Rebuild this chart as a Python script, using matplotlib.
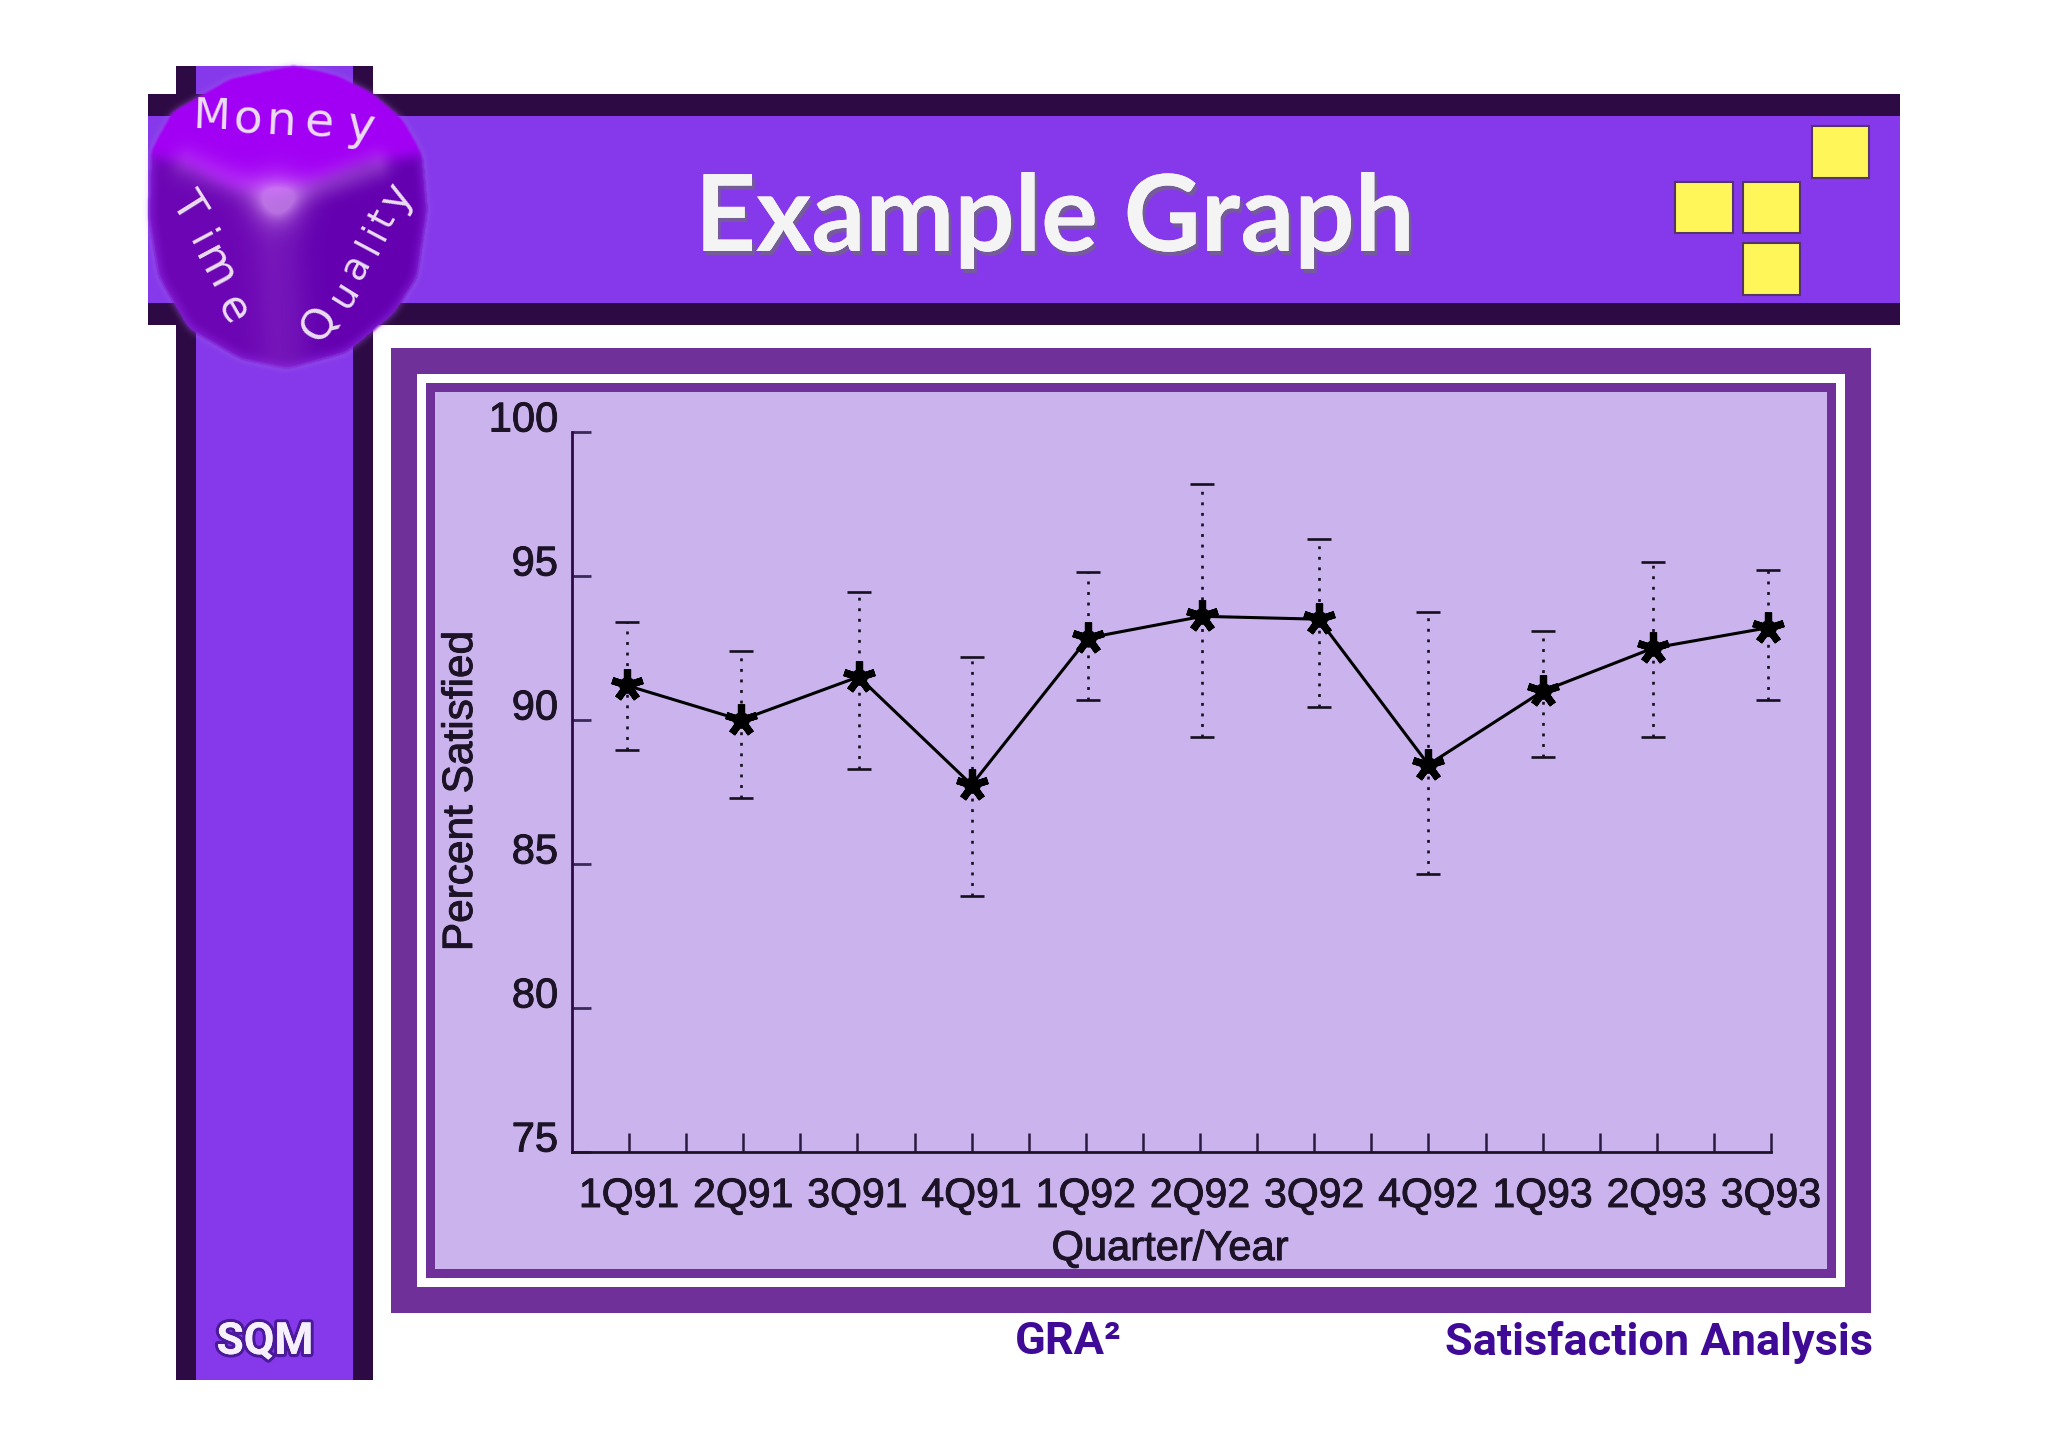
import matplotlib
matplotlib.use("Agg")
import matplotlib.pyplot as plt
import matplotlib.patheffects as pe
import matplotlib.transforms as mtrans
from matplotlib.patches import Rectangle
from matplotlib.path import Path
import numpy as np

W, H = 2048, 1448

quarters = ['1Q91', '2Q91', '3Q91', '4Q91', '1Q92', '2Q92', '3Q92', '4Q92', '1Q93', '2Q93', '3Q93']
quarter_pos = [-0.02, 0.98, 2.01, 3.0, 4.02, 5.02, 6.04, 7.0, 8.0, 8.97, 9.97]
satisfied = [91.2, 90.0, 91.5, 87.75, 92.85, 93.6, 93.5, 88.45, 91.0, 92.5, 93.2]
upper = [93.4, 92.4, 94.45, 92.2, 95.15, 98.2, 96.3, 93.75, 93.1, 95.5, 95.2]
lower = [88.95, 87.3, 88.3, 83.9, 90.7, 89.4, 90.45, 84.65, 88.7, 89.4, 90.7]
y_ticks = [75, 80, 85, 90, 95, 100]

DARK = '#2E0A44'
PURPLE = '#8639EA'
PANEL = '#70309A'
LIGHT = '#CBB4EE'
YELLOW = '#FFF75A'
FOOT = '#3F0A96'
INK = '#1C1426'
CONDENSED = ['Roboto', 'Liberation Sans']

plt.rcParams['font.family'] = ['Liberation Sans', 'DejaVu Sans']

# printed text in the reference is a bit fuzzy and heavy
heavy = [pe.withStroke(linewidth=0.7, foreground=INK)]


def rect(ax, x0, y0, x1, y1, color, **kw):
    ax.add_patch(Rectangle((x0, y0), x1 - x0, y1 - y0, facecolor=color, edgecolor='none', **kw))


def blur(a, n, passes=3):
    kernel = np.ones(n) / n
    for _ in range(passes):
        a = np.apply_along_axis(lambda r: np.convolve(r, kernel, mode='same'), 0, a)
        a = np.apply_along_axis(lambda r: np.convolve(r, kernel, mode='same'), 1, a)
    return a


def zp(pts):
    return [(130 + x / 3, 50 + y / 3) for x, y in pts]


def seg_dist(X, Y, a, b):
    a, b = np.array(a), np.array(b)
    d = b - a
    t = np.clip(((X - a[0]) * d[0] + (Y - a[1]) * d[1]) / (d @ d), 0, 1)
    return np.hypot(X - a[0] - t * d[0], Y - a[1] - t * d[1])


def draw_die(ax):
    x0, y0, x1, y1 = 110, 30, 460, 410
    Y, X = np.mgrid[y0:y1, x0:x1]
    pts = np.column_stack([X.ravel(), Y.ravel()])

    def mask(poly):
        return Path(poly + [poly[0]]).contains_points(pts).reshape(X.shape).astype(float)

    outline = [(490, 45), (620, 75), (720, 125), (815, 205), (875, 310), (890, 480), (860, 680),
               (790, 790), (650, 905), (470, 955), (330, 925), (175, 835), (85, 680), (55, 500),
               (62, 300), (125, 185), (300, 85)]
    blob = blur(mask(zp(outline)), 9, 3) > 0.5
    blob = blob.astype(float)
    top = mask(zp([(-100, 290), (150, 335), (300, 410), (430, 440), (550, 400), (700, 340), (1050, 290),
                   (1050, -100), (-100, -100)]))
    left = mask(zp([(-100, 290), (150, 335), (300, 410), (430, 440), (450, 1100), (-100, 1100)]))
    top, left = blur(top, 11), blur(left, 11)
    right = np.clip(1 - top - left, 0, 1)

    top_col = np.array([0xA2, 0x00, 0xF4]) / 255
    left_col = np.array([0x6C, 0x06, 0xB4]) / 255
    right_col = np.array([0x64, 0x00, 0xB0]) / 255
    rgb = np.dstack([top * top_col[i] + left * left_col[i] + right * right_col[i] for i in range(3)])

    # rounded edges between the faces catch the light
    vx = zp([(440, 450)])[0]
    edges = [(zp([(170, 340)])[0], vx), (zp([(740, 345)])[0], vx), (vx, zp([(470, 950)])[0])]
    ridge = np.zeros(X.shape)
    for (a, b), w, k in zip(edges, (16, 14, 26), (0.22, 0.28, 0.12)):
        ridge += k * np.exp(-(seg_dist(X, Y, a, b) / w) ** 2)
    ridge += 0.42 * np.exp(-((X - vx[0]) ** 2 + (Y - vx[1]) ** 2) / 26 ** 2)
    ridge = np.clip(ridge, 0, 0.7)
    shade = np.array([0xDC, 0xA0, 0xF6]) / 255
    # side faces brighten towards the outer rim
    rim = np.clip(1 - blur(blob, 11), 0, 1) * blob * (1 - top)
    rim_col = np.array([0x96, 0x30, 0xF0]) / 255
    for i in range(3):
        rgb[..., i] = rgb[..., i] * (1 - ridge) + shade[i] * ridge
        rgb[..., i] = rgb[..., i] * (1 - rim) + rim_col[i] * rim

    rgba = np.dstack([rgb, np.clip(blur(blob, 3, 2) * 1.05, 0, 1)])
    halo = np.dstack([np.full(X.shape, 0.70), np.full(X.shape, 0.50), np.full(X.shape, 0.95),
                      0.55 * blur(blob, 7, 3)])
    ax.imshow(halo, extent=(x0, x1, y1, y0), aspect='auto', zorder=5, interpolation='bilinear')
    ax.imshow(rgba, extent=(x0, x1, y1, y0), aspect='auto', zorder=6, interpolation='bilinear')

    letters = [
        ('M', 245, 200, -2, 31), ('o', 352, 212, -3, 34), ('n', 453, 218, -3, 34),
        ('e', 565, 222, -4, 34), ('y', 692, 232, -8, 34),
        ('T', 172, 468, -58, 31), ('i', 210, 570, -62, 29), ('m', 252, 655, -62, 32), ('e', 305, 780, -60, 31),
        ('Q', 570, 820, 60, 31), ('u', 640, 730, 58, 28), ('a', 682, 650, 62, 27), ('l', 716, 590, 62, 27),
        ('i', 738, 548, 62, 27), ('t', 762, 508, 62, 27), ('y', 800, 442, 60, 30),
    ]
    for ch, zx, zy, rot, size in letters:
        (px, py), = zp([(zx, zy)])
        ax.text(px, py, ch, fontsize=size, family='DejaVu Sans', color='#EBDDF2', rotation=rot,
                rotation_mode='anchor', ha='center', va='center', zorder=7)


fig = plt.figure(figsize=(W / 100, H / 100), dpi=100, facecolor='white')

bg = fig.add_axes([0, 0, 1, 1], zorder=0)
bg.axis('off')

# side and header bars
rect(bg, 176, 66, 373, 1380, DARK)
rect(bg, 196, 66, 353, 1380, PURPLE)
rect(bg, 148, 94, 1900, 325, DARK)
rect(bg, 148, 116, 1900, 303, PURPLE)

# nested panel frames
rect(bg, 391, 348, 1871, 1313, PANEL)
rect(bg, 417, 374, 1845, 1287, 'white')
rect(bg, 426, 383, 1836, 1278, PANEL)
rect(bg, 435, 392, 1827, 1269, LIGHT)

for x0, y0, x1, y1 in [(1812, 126, 1869, 178), (1675, 182, 1733, 233),
                       (1743, 182, 1800, 233), (1743, 243, 1800, 295)]:
    bg.add_patch(Rectangle((x0, y0), x1 - x0, y1 - y0, facecolor=YELLOW, edgecolor='#55336B', linewidth=1.5))

draw_die(bg)

bg.set_xlim(0, W)
bg.set_ylim(H, 0)

bg.text(1055, 221, 'Example Graph', fontsize=76.5, fontweight='bold', family=['Lato', 'DejaVu Sans'],
        color='#F4F4F4', ha='center', va='center',
        path_effects=[pe.withSimplePatchShadow(offset=(2, -3), shadow_rgbFace='#6E6A78', alpha=0.7), pe.Normal()])
bg.text(265, 1342, 'SQM', fontsize=32, fontweight='bold', family=CONDENSED, color='#F6F0FC', ha='center', va='center',
        path_effects=[pe.withStroke(linewidth=4.5, foreground='#4A1A9A'), pe.Normal()])
bg.text(1068, 1342, 'GRA²', fontsize=32.5, fontweight='bold', family=CONDENSED, color=FOOT, ha='center', va='center')
bg.text(1873, 1342, 'Satisfaction Analysis', fontsize=32.5, fontweight='bold', family=CONDENSED, color=FOOT,
        ha='right', va='center')

# chart axes, left/right/top/bottom taken from the spine pixels
ax = fig.add_axes([572 / W, 1 - 1152 / H, (1771 - 572) / W, (1152 - 432) / H], zorder=1)
ax.patch.set_alpha(0)

x = np.arange(len(quarters))
y = np.array(satisfied)
yerr = [y - np.array(lower), np.array(upper) - y]
line, caps, bars = ax.errorbar(quarter_pos, y, yerr=yerr, color='black', linewidth=2.2, ecolor='#14101C',
                               elinewidth=1.9, capsize=8.5, capthick=1.9, clip_on=False)
bars[0].set_linestyle((0, (1.1, 2.9)))
# thick five-armed asterisk with a solid middle
ax.plot(quarter_pos, y, linestyle='none', marker=(5, 2, 0), markersize=23, markeredgewidth=5.2,
        markeredgecolor='black', clip_on=False, zorder=4)
ax.plot(quarter_pos, y, linestyle='none', marker='o', markersize=11, color='black', clip_on=False, zorder=4)

ax.set_xlim(-0.5, 10)
ax.set_ylim(75, 100)
ax.spines['top'].set_visible(False)
ax.spines['right'].set_visible(False)
ax.spines['left'].set_color(DARK)
ax.spines['bottom'].set_color(INK)
ax.spines['left'].set_linewidth(2)
ax.spines['bottom'].set_linewidth(2)

ax.set_xticks(x)
ax.set_xticklabels(quarters, fontsize=29.5, color=INK, path_effects=heavy)
ax.set_xticks(x[:-1] + 0.5, minor=True)
ax.tick_params(axis='x', which='both', direction='in', length=13.5, width=1.8, color='#2A1A40', pad=18)
ax.set_yticks(y_ticks)
ax.set_yticklabels([str(v) for v in y_ticks], fontsize=30, color=INK, path_effects=heavy)
ax.tick_params(axis='y', direction='in', length=14, width=2, color='#3A2A58', pad=10)
# y labels sit a little above their ticks in the original
shift = mtrans.ScaledTranslation(0, 16 / 100, fig.dpi_scale_trans)
for lab in ax.get_yticklabels():
    lab.set_transform(lab.get_transform() + shift)

bg.text(461, 791, 'Percent Satisfied', fontsize=30.5, color=INK, rotation=90, ha='center', va='center',
        path_effects=heavy)
bg.text(1170, 1249, 'Quarter/Year', fontsize=30, color=INK, ha='center', va='center', path_effects=heavy)

fig.savefig('out.png', dpi=100)
